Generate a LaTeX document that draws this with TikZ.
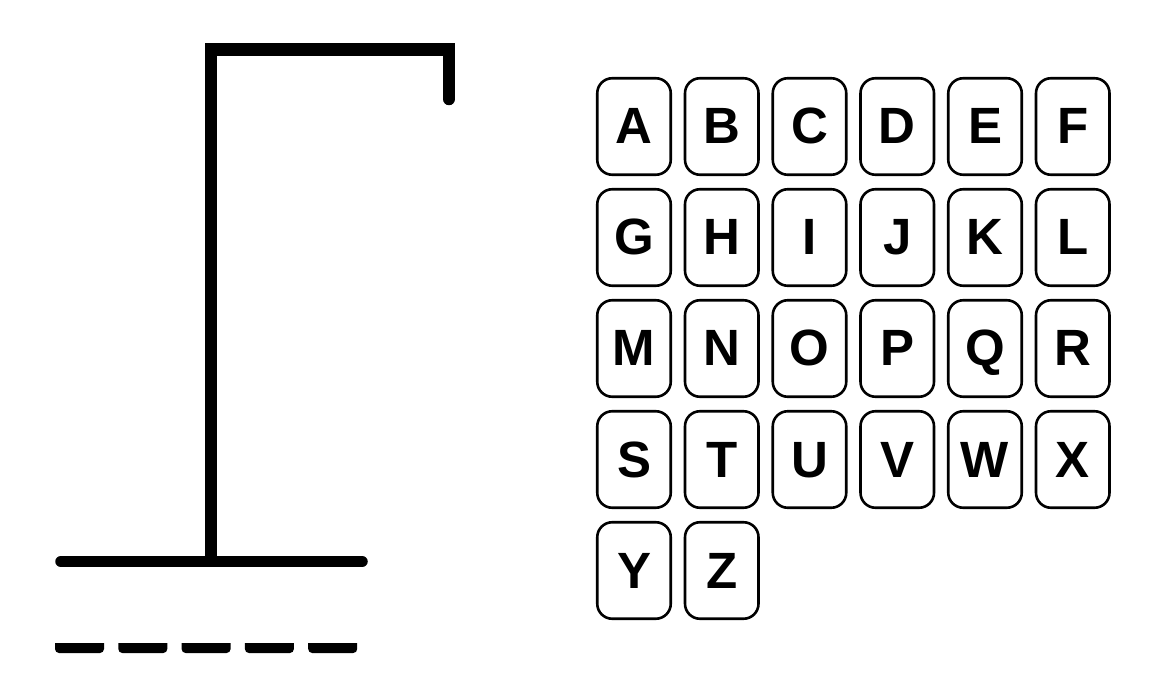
\documentclass[tikz,border=0pt]{standalone}
\usepackage{fontspec}
\setmainfont{Liberation Sans}
\tikzset{
  keybox/.style={draw, line width=2.6pt, rounded corners=15pt,
    minimum width=73.5pt, minimum height=96.5pt, inner sep=0pt,
    text height=35pt, text depth=0pt,
    font=\fontsize{51}{51}\selectfont\bfseries},
  gallows/.style={line width=12.5pt, line cap=round, miter limit=10},
}
\begin{document}
\begin{tikzpicture}[x=1pt,y=-1pt]
        \useasboundingbox (0,0) rectangle (1172,692);

        \draw[gallows](449,99) -- (449,49.5) -- (211,49.5) -- (211,556);
        \draw[gallows, line width=11.5pt](61,561.5) to (362,561.5);

        \fill(55,643) [rounded corners=4pt] -- (55,653) -- (104,653) [sharp corners] -- (104,643) -- cycle;
        \fill(118.3,643) [rounded corners=4pt] -- (118.3,653) -- (167.3,653) [sharp corners] -- (167.3,643) -- cycle;
        \fill(181.6,643) [rounded corners=4pt] -- (181.6,653) -- (230.6,653) [sharp corners] -- (230.6,643) -- cycle;
        \fill(244.9,643) [rounded corners=4pt] -- (244.9,653) -- (293.9,653) [sharp corners] -- (293.9,643) -- cycle;
        \fill(308.2,643) [rounded corners=4pt] -- (308.2,653) -- (357.2,653) [sharp corners] -- (357.2,643) -- cycle;

        \node[keybox] (kA) at(634, 126.5){A};
        \node[keybox] (kB) at(721.75, 126.5){B};
        \node[keybox] (kC) at(809.5, 126.5){C};
        \node[keybox] (kD) at(897.25, 126.5){D};
        \node[keybox] (kE) at(985, 126.5){E};
        \node[keybox] (kF) at(1072.75, 126.5){F};

        \node[keybox] (kG) at(634, 237.5){G};
        \node[keybox] (kH) at(721.75, 237.5){H};
        \node[keybox] (kI) at(809.5, 237.5){I};
        \node[keybox] (kJ) at(897.25, 237.5){J};
        \node[keybox] (kK) at(985, 237.5){K};
        \node[keybox] (kL) at(1072.75, 237.5){L};

        \node[keybox] (kM) at(634, 348.5){M};
        \node[keybox] (kN) at(721.75, 348.5){N};
        \node[keybox] (kO) at(809.5, 348.5){O};
        \node[keybox] (kP) at(897.25, 348.5){P};
        \node[keybox] (kQ) at(985, 348.5){Q};
        \node[keybox] (kR) at(1072.75, 348.5){R};

        \node[keybox] (kS) at(634, 459.5){S};
        \node[keybox] (kT) at(721.75, 459.5){T};
        \node[keybox] (kU) at(809.5, 459.5){U};
        \node[keybox] (kV) at(897.25, 459.5){V};
        \node[keybox] (kW) at(985, 459.5){W};
        \node[keybox] (kX) at(1072.75, 459.5){X};

        \node[keybox] (kY) at(634, 570.5){Y};
        \node[keybox] (kZ) at(721.75, 570.5){Z};

    \end{tikzpicture}
\end{document}
